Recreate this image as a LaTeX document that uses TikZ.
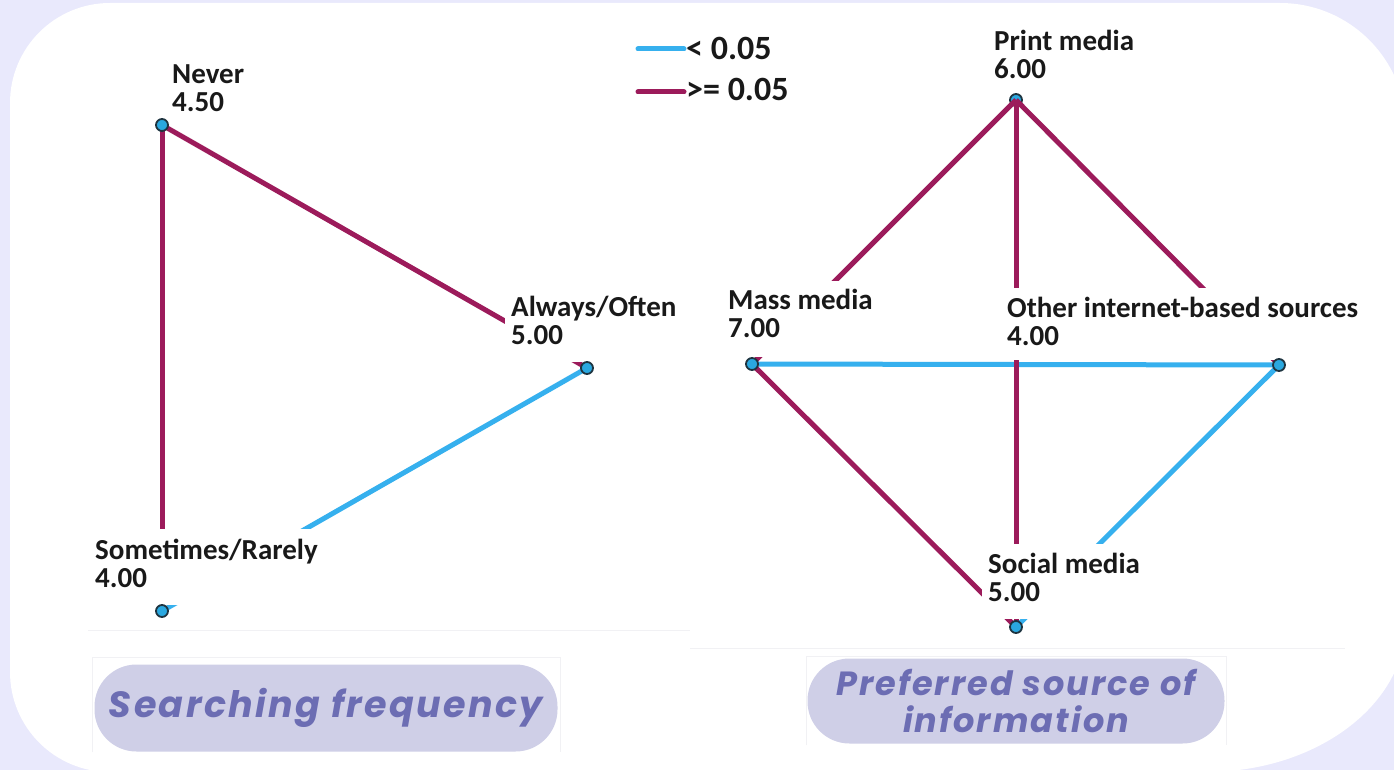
\documentclass[tikz,border=0pt]{standalone}
\usepackage{fontspec}
\newfontfamily\lblfont{Carlito}
\newfontfamily\popfont{Poppins}[LetterSpace=6]
\newfontfamily\popfontw{Poppins}[LetterSpace=6.5]
\definecolor{bgc}{HTML}{E9E9FC}
\definecolor{crim}{HTML}{9C1B5B}
\definecolor{sky}{HTML}{36B0EE}
\definecolor{dotfill}{HTML}{2AA8E0}
\definecolor{dotline}{HTML}{1E3440}
\definecolor{pillfill}{HTML}{CFCFE7}
\definecolor{pilltext}{HTML}{6C6DB3}
\definecolor{faint}{HTML}{F1F1F4}
\newcommand{\dep}[1]{\rule[-#1pt]{0pt}{0pt}}
\tikzset{
  sig/.style={draw=sky, line width=5pt},
  nsig/.style={draw=crim, line width=5pt},
  dot/.style={circle, fill=dotfill, draw=dotline, line width=1.8pt, minimum size=12pt, inner sep=0pt},
  lbl/.style={font=\lblfont\bfseries\fontsize{29}{28}\selectfont, align=left, fill=white, anchor=base west, inner xsep=6pt, inner ysep=9pt, text=black!90},
  legtxt/.style={font=\lblfont\bfseries\fontsize{34}{34}\selectfont, anchor=base west, inner sep=0pt, text=black!90},
  pill/.style={fill=pillfill, rounded corners=42pt, inner sep=0pt, text=pilltext, align=center},
  frame/.style={draw=faint, line width=1pt}
}
\begin{document}
\begin{tikzpicture}[x=1pt,y=-1pt]
\useasboundingbox (0,0) rectangle (1394,770);
\fill[bgc] (0,0) rectangle (1394,770);
\fill[white] (10,103) arc[start angle=180,end angle=270,radius=100] -- (1280,3)
  arc[start angle=270,end angle=360,radius=126] -- (1406,622)
  arc[start angle=0,end angle=90,x radius=200,y radius=150] -- (110,772)
  arc[start angle=90,end angle=180,radius=100] -- cycle;
% faint frames of embedded pictures
\draw[frame] (88,630) -- (690,630);
\draw[frame] (690,648) -- (1345,648);
\draw[frame] (92,752) -- (92,657) -- (560,657) -- (560,752);
\draw[frame] (806,745) -- (806,656) -- (1226,656) -- (1226,745);

% marker positions
\coordinate (never) at (162,125);
\coordinate (always) at (587,368);
\coordinate (sometimes) at (162,611);
\coordinate (print) at (1016,100);
\coordinate (mass) at (752,364);
\coordinate (other) at (1279,365);
\coordinate (social) at (1016,627);

\node[dot] (printM) at (print) {};

% edges
\draw[nsig] (never) -- (sometimes);
\draw[nsig] (never) -- (always);
\draw[sig] (sometimes) -- (always);
\draw[nsig] (print) -- (mass);
\draw[nsig] (print) -- (other);
\draw[sig] (mass) -- (other);
\draw[nsig] (print) -- (social);
\draw[nsig] (mass) -- (social);
\draw[sig] (other) -- (social);

% labels (anchor = baseline of the last line)
\node[lbl] (neverL) at (166,112) {Never\\4.50};
\node[lbl, inner ysep=10pt] (alwaysL) at (505,344) {Always/Often\\5.00\dep{8}};
\node[lbl, inner ysep=10pt] (sometimesL) at (89,587) {Sometimes/Rarely\\4.00\dep{8}};
\node[lbl] (printL) at (988,79) {Print media\\6.00};
\node[lbl, inner ysep=8pt] (massL) at (722,337) {Mass media\\7.00\dep{12}};
\node[lbl] (otherL) at (1001,345) {Other internet-based sources\\4.00\dep{6}};
\node[lbl] (socialL) at (982,601) {Social media\\5.00\dep{9}};

% markers on top
\node[dot] (neverM) at (never) {};
\node[dot] (alwaysM) at (always) {};
\node[dot] (sometimesM) at (sometimes) {};
\node[dot] (massM) at (mass) {};
\node[dot] (otherM) at (other) {};
\node[dot] (socialM) at (social) {};

% legend
\coordinate (lgAa) at (638,49);
\coordinate (lgAb) at (684,49);
\coordinate (lgBa) at (638,92);
\coordinate (lgBb) at (684,92);
\draw[sig, line cap=round] (lgAa) -- (lgAb);
\draw[nsig, line cap=round] (lgBa) -- (lgBb);
\node[legtxt] (lgA) at (686,60) {< 0.05};
\node[legtxt] (lgB) at (686,101) {>= 0.05};

% titles
\node[pill, minimum width=463pt, minimum height=87pt, font=\popfontw\bfseries\itshape\fontsize{36.5}{40}\selectfont] (pillL) at (326,708) {Searching frequency};
\node[pill, minimum width=417pt, minimum height=85pt, font=\popfont\bfseries\itshape\fontsize{33.5}{37}\selectfont] (pillR) at (1016,701) {Preferred source of\\information};
\end{tikzpicture}
\end{document}
